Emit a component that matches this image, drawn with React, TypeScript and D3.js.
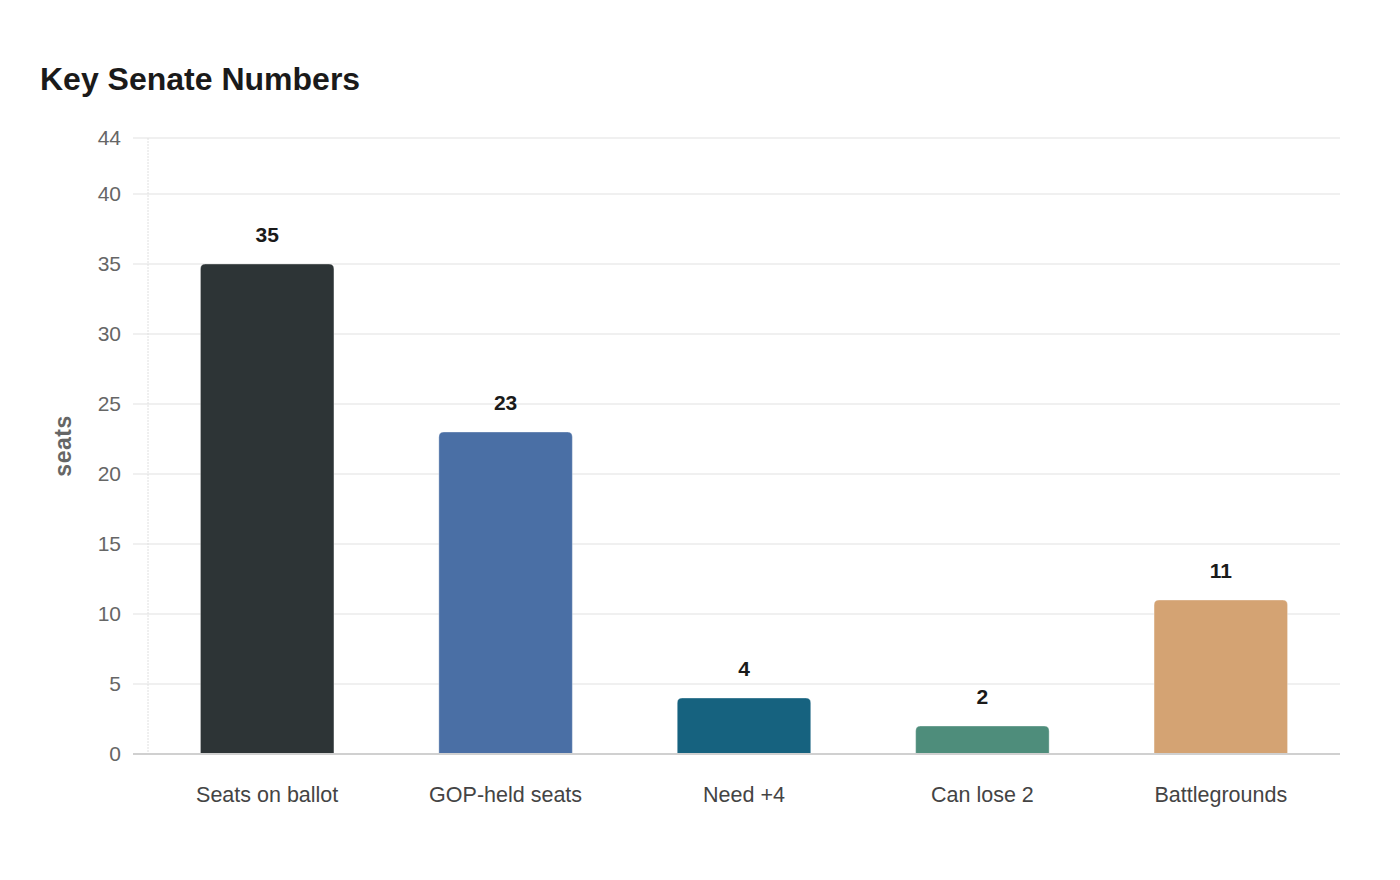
import React from 'react';
import * as d3 from 'd3';

const categories = ['Seats on ballot', 'GOP-held seats', 'Need +4', 'Can lose 2', 'Battlegrounds'];
const seatValues = [35, 23, 4, 2, 11];
const barColors = ['#2d3436', '#4a6fa5', '#16627f', '#4e8d7b', '#d4a373'];
const yTicks = [0, 5, 10, 15, 20, 25, 30, 35, 40, 44];

const W = 1400;
const H = 880;
const margin = { top: 138, right: 60, bottom: 126, left: 148 };

// rect with rounded top corners only
function topRoundedBar(x: number, y: number, w: number, h: number, r: number) {
  const rr = Math.min(r, h, w / 2);
  return `M${x},${y + h}V${y + rr}Q${x},${y} ${x + rr},${y}H${x + w - rr}Q${x + w},${y} ${x + w},${y + rr}V${y + h}Z`;
}

const App: React.FC = () => {
  const font = '"Liberation Sans", Arial, sans-serif';
  const x = d3.scaleBand<string>()
    .domain(categories)
    .range([margin.left, W - margin.right])
    .paddingInner(0.44)
    .paddingOuter(0.22);
  const y = d3.scaleLinear().domain([0, 44]).range([H - margin.bottom, margin.top]);

  return (
    <svg width={W} height={H} style={{ display: 'block', position: 'absolute', left: 0, top: 0 }} fontFamily={font}>
      <rect width={W} height={H} fill="#ffffff" />
      <text x={40} y={90} fontSize={32} fontWeight="bold" fill="#1a1a1a">Key Senate Numbers</text>

      {/* gridlines + y ticks */}
      {yTicks.map(t => (
        <g key={t}>
          {t > 0 && <line x1={133} x2={W - margin.right} y1={y(t)} y2={y(t)} stroke="#ebebeb" strokeWidth={1.5} />}
          <text x={121} y={y(t)} dy="0.35em" textAnchor="end" fontSize={21} fill="#666">{t}</text>
        </g>
      ))}
      <line x1={margin.left} x2={margin.left} y1={margin.top} y2={y(0)} stroke="#e0e0e0" strokeWidth={1} strokeDasharray="2,1" />

      <text transform={`translate(71,${(margin.top + y(0)) / 2}) rotate(-90)`} textAnchor="middle" fontSize={23} fontWeight="bold" fill="#666" letterSpacing={0.5}>seats</text>

      {categories.map((c, i) => {
        const bx = x(c)!;
        const bw = x.bandwidth();
        const v = seatValues[i];
        return (
          <g key={c}>
            <path d={topRoundedBar(bx, y(v), bw, y(0) - y(v), 5)} fill={barColors[i]} stroke="rgba(255,255,255,0.35)" strokeWidth={1} />
            <text x={bx + bw / 2} y={y(v) - 22} textAnchor="middle" fontSize={21} fontWeight="bold" fill="#1a1a1a">{v}</text>
            <text x={bx + bw / 2} y={y(0) + 48} textAnchor="middle" fontSize={21.5} fill="#444">{c}</text>
          </g>
        );
      })}

      <line x1={133} x2={W - margin.right} y1={y(0)} y2={y(0)} stroke="#d0d0d0" strokeWidth={2} />
    </svg>
  );
};

export default App;
